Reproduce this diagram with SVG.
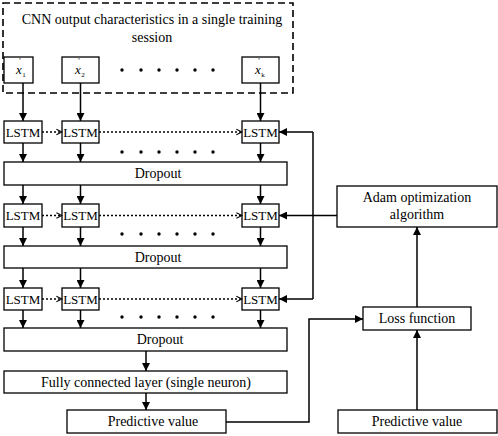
<svg xmlns="http://www.w3.org/2000/svg" width="498" height="436" viewBox="0 0 498 436">
<defs>
<style>
.box{fill:#fff;stroke:#000;stroke-width:1.3}
.t{font-size:14px;fill:#000;text-anchor:middle}
.s{font-size:13px;fill:#000;text-anchor:middle}
.ln{fill:none;stroke:#000;stroke-width:1.5}
.dl{fill:none;stroke:#000;stroke-width:1.3;stroke-dasharray:2,2}
.dot{fill:#000}
</style>
<marker id="ah" viewBox="0 0 10 10" refX="10" refY="5" markerWidth="8" markerHeight="8" markerUnits="userSpaceOnUse" orient="auto">
<path d="M0,0 L10,5 L0,10 Z" fill="#000"/>
</marker>
<marker id="oh" viewBox="0 0 10 10" refX="9" refY="5" markerWidth="7" markerHeight="8" markerUnits="userSpaceOnUse" orient="auto">
<path d="M1,1 L9,5 L1,9" fill="none" stroke="#000" stroke-width="1.5"/>
</marker>
</defs>
<rect width="498" height="436" fill="#fff"/>
<g font-family="'Liberation Serif', 'DejaVu Serif', 'Times New Roman', serif">
<g id="input-group">
<rect x="3" y="3" width="290" height="90" fill="none" stroke="#000" stroke-width="1.6" stroke-dasharray="7,4"/>
<text class="t" x="152" y="24" font-size="14.5">CNN output characteristics in a single training</text>
<text class="t" x="152" y="42" font-size="14.5">session</text>
</g>
<g id="x1"><rect class="box" x="4" y="57" width="29" height="26"/>
<text class="s" x="19" y="74" font-style="italic">x<tspan x="20" y="64" font-size="8" font-style="normal">'</tspan><tspan x="24" y="77" font-size="7" font-style="normal">1</tspan></text></g>
<g id="x2"><rect class="box" x="62" y="57" width="37" height="26"/>
<text class="s" x="78" y="74" font-style="italic">x<tspan x="79" y="64" font-size="8" font-style="normal">'</tspan><tspan x="83" y="77" font-size="7" font-style="normal">2</tspan></text></g>
<g id="xk"><rect class="box" x="242" y="57" width="37" height="26"/>
<text class="s" x="258" y="74" font-style="italic">x<tspan x="259" y="64" font-size="8" font-style="normal">'</tspan><tspan x="263" y="77" font-size="7" font-style="normal">k</tspan></text></g>
<g id="dots0" class="dot"><circle cx="122" cy="70" r="1.7"/><circle cx="141" cy="70" r="1.7"/><circle cx="159" cy="70" r="1.7"/><circle cx="177" cy="70" r="1.7"/><circle cx="195" cy="70" r="1.7"/><circle cx="213" cy="70" r="1.7"/></g>

<g id="lstm-row1">
<rect class="box" x="4" y="121" width="38" height="22"/><text class="s" x="23" y="137">LSTM</text>
<rect class="box" x="62" y="121" width="37" height="22"/><text class="s" x="80.5" y="137">LSTM</text>
<rect class="box" x="242" y="121" width="37" height="22"/><text class="s" x="260.5" y="137">LSTM</text>
</g>
<g id="dots1" class="dot"><circle cx="122" cy="152" r="1.7"/><circle cx="141" cy="152" r="1.7"/><circle cx="159" cy="152" r="1.7"/><circle cx="177" cy="152" r="1.7"/><circle cx="195" cy="152" r="1.7"/><circle cx="213" cy="152" r="1.7"/></g>
<g id="dropout1"><rect class="box" x="4" y="162" width="283" height="23"/><text class="t" x="158" y="178">Dropout</text></g>

<g id="lstm-row2">
<rect class="box" x="4" y="204" width="38" height="23"/><text class="s" x="23" y="220">LSTM</text>
<rect class="box" x="62" y="204" width="37" height="23"/><text class="s" x="80.5" y="220">LSTM</text>
<rect class="box" x="242" y="204" width="37" height="23"/><text class="s" x="260.5" y="220">LSTM</text>
</g>
<g id="dots2" class="dot"><circle cx="122" cy="234" r="1.7"/><circle cx="141" cy="234" r="1.7"/><circle cx="159" cy="234" r="1.7"/><circle cx="177" cy="234" r="1.7"/><circle cx="195" cy="234" r="1.7"/><circle cx="213" cy="234" r="1.7"/></g>
<g id="dropout2"><rect class="box" x="4" y="246" width="283" height="22"/><text class="t" x="158" y="262">Dropout</text></g>

<g id="lstm-row3">
<rect class="box" x="4" y="288" width="38" height="22"/><text class="s" x="23" y="304">LSTM</text>
<rect class="box" x="62" y="288" width="37" height="22"/><text class="s" x="80.5" y="304">LSTM</text>
<rect class="box" x="242" y="288" width="37" height="22"/><text class="s" x="260.5" y="304">LSTM</text>
</g>
<g id="dots3" class="dot"><circle cx="122" cy="317" r="1.7"/><circle cx="141" cy="317" r="1.7"/><circle cx="159" cy="317" r="1.7"/><circle cx="177" cy="317" r="1.7"/><circle cx="195" cy="317" r="1.7"/><circle cx="213" cy="317" r="1.7"/></g>
<g id="dropout3"><rect class="box" x="4" y="328" width="283" height="23"/><text class="t" x="160" y="344">Dropout</text></g>

<g id="fc"><rect class="box" x="4" y="371" width="283" height="22"/><text class="t" x="146" y="387">Fully connected layer (single neuron)</text></g>
<g id="pred-left"><rect class="box" x="67" y="410" width="159" height="23"/><text class="t" x="153" y="426">Predictive value</text></g>
<g id="adam"><rect class="box" x="337" y="186" width="160" height="41"/><text class="t" x="417" y="202">Adam optimization</text><text class="t" x="417" y="219">algorithm</text></g>
<g id="loss"><rect class="box" x="363" y="307" width="108" height="23"/><text class="t" x="417" y="323">Loss function</text></g>
<g id="pred-right"><rect class="box" x="338" y="410" width="159" height="23"/><text class="t" x="417" y="426">Predictive value</text></g>
</g>
<g id="connectors">
<path class="ln" d="M23,83 V121" marker-end="url(#ah)"/>
<path class="ln" d="M80.5,83 V121" marker-end="url(#ah)"/>
<path class="ln" d="M260.5,83 V121" marker-end="url(#ah)"/>
<path class="dl" d="M42,132 H62" marker-end="url(#oh)"/>
<path class="dl" d="M99,132 H242" marker-end="url(#oh)"/>
<path class="ln" d="M23,143 V162" marker-end="url(#ah)"/>
<path class="ln" d="M80.5,143 V162" marker-end="url(#ah)"/>
<path class="ln" d="M260.5,143 V162" marker-end="url(#ah)"/>
<path class="ln" d="M23,185 V204" marker-end="url(#ah)"/>
<path class="ln" d="M80.5,185 V204" marker-end="url(#ah)"/>
<path class="ln" d="M260.5,185 V204" marker-end="url(#ah)"/>
<path class="dl" d="M42,215.5 H62" marker-end="url(#oh)"/>
<path class="dl" d="M99,215.5 H242" marker-end="url(#oh)"/>
<path class="ln" d="M23,227 V246" marker-end="url(#ah)"/>
<path class="ln" d="M80.5,227 V246" marker-end="url(#ah)"/>
<path class="ln" d="M260.5,227 V246" marker-end="url(#ah)"/>
<path class="ln" d="M23,268 V288" marker-end="url(#ah)"/>
<path class="ln" d="M80.5,268 V288" marker-end="url(#ah)"/>
<path class="ln" d="M260.5,268 V288" marker-end="url(#ah)"/>
<path class="dl" d="M42,299 H62" marker-end="url(#oh)"/>
<path class="dl" d="M99,299 H242" marker-end="url(#oh)"/>
<path class="ln" d="M23,310 V328" marker-end="url(#ah)"/>
<path class="ln" d="M80.5,310 V328" marker-end="url(#ah)"/>
<path class="ln" d="M260.5,310 V328" marker-end="url(#ah)"/>
<path class="ln" d="M146,351 V371" marker-end="url(#ah)"/>
<path class="ln" d="M146,393 V410" marker-end="url(#ah)"/>
<path class="ln" d="M313,132 V299"/>
<path class="ln" d="M313,132 H279" marker-end="url(#ah)"/>
<path class="ln" d="M337,215.5 H279" marker-end="url(#ah)"/>
<path class="ln" d="M313,299 H279" marker-end="url(#ah)"/>
<path class="ln" d="M417,307 V227" marker-end="url(#ah)"/>
<path class="ln" d="M417,410 V330" marker-end="url(#ah)"/>
<path class="ln" d="M226,422 H309 V319 H363" marker-end="url(#ah)"/>
</g>
</svg>
